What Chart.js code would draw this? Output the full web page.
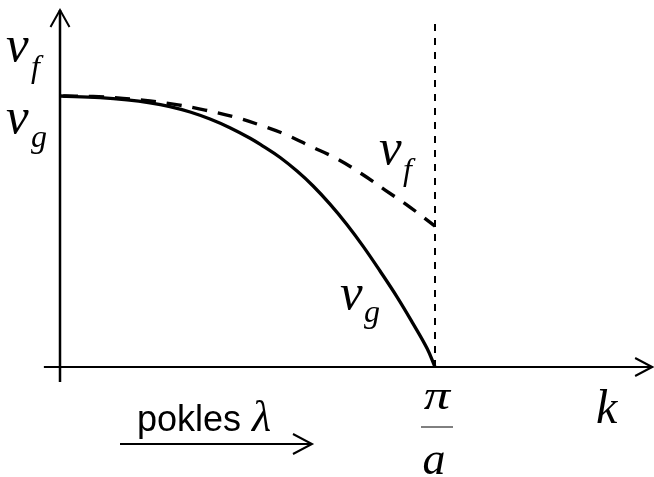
<!DOCTYPE html>
<html>
<head>
<meta charset="utf-8">
<script src="https://cdn.jsdelivr.net/npm/chart.js@4"></script>
<style>
  html, body { margin: 0; padding: 0; background: #fff; }
  #wrap { width: 654px; height: 477px; }
</style>
</head>
<body>
<div id="wrap"><canvas id="c" width="654" height="477"></canvas></div>
<script>
// wave number k in units of pi/a, velocities in units of v0
const kGroup = [0, 0.107, 0.179, 0.24, 0.293, 0.347, 0.4, 0.453, 0.507, 0.541, 0.587,
                0.632, 0.675, 0.72, 0.765, 0.808, 0.853, 0.899, 0.941, 0.979, 1];
const vGroup = [1.0, 0.994, 0.986, 0.975, 0.961, 0.941, 0.915, 0.883, 0.844, 0.815, 0.773,
                0.723, 0.668, 0.601, 0.526, 0.446, 0.355, 0.258, 0.161, 0.068, 0];

const kPhase = [0, 0.088, 0.168, 0.24, 0.315, 0.387, 0.461, 0.533, 0.605, 0.667,
                0.739, 0.805, 0.867, 0.933, 1];
const vPhase = [1.0, 0.998, 0.991, 0.982, 0.967, 0.948, 0.924, 0.893, 0.856, 0.815,
                0.768, 0.712, 0.653, 0.590, 0.520];

// zone boundary k = pi/a and axis extents
const kEdge = 1;
const edgeTop = 1.266;
const xAxisRange = [-0.043, 1.579];
const yAxisRange = [-0.055, 1.317];

const pts = (xs, ys) => xs.map((x, i) => ({ x: x, y: ys[i] }));

const serif = '"Liberation Serif", "Times New Roman", serif';
const sans = '"Liberation Sans", Arial, sans-serif';

function line(ctx, x1, y1, x2, y2) {
    ctx.beginPath();
    ctx.moveTo(x1, y1);
    ctx.lineTo(x2, y2);
    ctx.stroke();
}

function arrowHead(ctx, tx, ty, dx, dy, len, half) {
    // dx,dy: unit direction of the arrow
    const bx = tx - dx * len, by = ty - dy * len;
    ctx.beginPath();
    ctx.moveTo(bx - dy * half, by + dx * half);
    ctx.lineTo(tx, ty);
    ctx.lineTo(bx + dy * half, by - dx * half);
    ctx.stroke();
}

const labels = {
    id: 'labels',
    afterDatasetsDraw(chart) {
        const ctx = chart.ctx;
        const xs = chart.scales.x, ys = chart.scales.y;
        ctx.save();
        ctx.strokeStyle = '#000';
        ctx.fillStyle = '#000';
        ctx.lineWidth = 2;
        ctx.lineCap = 'butt';

        // axis arrow heads
        arrowHead(ctx, xs.getPixelForValue(0), ys.getPixelForValue(yAxisRange[1]), 0, -1, 17, 9.5);
        arrowHead(ctx, xs.getPixelForValue(xAxisRange[1]), ys.getPixelForValue(0), 1, 0, 17, 9);

        // "pokles lambda" arrow
        line(ctx, 120, 444, 312, 444);
        arrowHead(ctx, 312, 444, 1, 0, 19, 10);

        ctx.textBaseline = 'alphabetic';
        ctx.textAlign = 'left';

        ctx.font = '36px ' + sans;
        ctx.fillText('pokles', 137, 431);
        ctx.font = 'italic 44px ' + serif;
        ctx.fillText('λ', 252, 431);

        // axis symbols
        ctx.font = 'italic 51px ' + serif;
        ctx.fillText('v', 6, 61);
        ctx.fillText('v', 6, 133);
        ctx.font = 'italic 32px ' + serif;
        ctx.fillText('f', 31, 77);
        ctx.fillText('g', 31, 147);

        // curve labels
        ctx.font = 'italic 51px ' + serif;
        ctx.fillText('v', 379, 164);
        ctx.fillText('v', 340, 309);
        ctx.font = 'italic 32px ' + serif;
        ctx.fillText('f', 403, 180);
        ctx.fillText('g', 364, 322);

        // pi / a at the zone boundary
        const px = xs.getPixelForValue(kEdge);
        ctx.textAlign = 'center';
        ctx.save();
        ctx.translate(px + 2, 409);
        ctx.scale(1.25, 1);
        ctx.font = 'italic 42px ' + serif;
        ctx.fillText('π', 0, 0);
        ctx.restore();
        ctx.font = 'italic 46px ' + serif;
        ctx.fillText('a', px - 1, 474);
        ctx.lineWidth = 1;
        line(ctx, px - 14, 427, px + 18, 427);

        ctx.font = 'italic 48px ' + serif;
        ctx.textAlign = 'left';
        ctx.fillText('k', 596, 423);
        ctx.restore();
    }
};

new Chart(document.getElementById('c'), {
    type: 'line',
    data: {
        datasets: [
            {
                label: 'x axis',
                data: pts(xAxisRange, [0, 0]),
                borderColor: '#000', borderWidth: 2, pointRadius: 0, tension: 0
            },
            {
                label: 'y axis',
                data: pts([0, 0], yAxisRange),
                borderColor: '#000', borderWidth: 2.5, pointRadius: 0, tension: 0
            },
            {
                label: 'pi/a',
                data: pts([kEdge, kEdge], [0, edgeTop]),
                borderColor: '#000', borderWidth: 2, borderDash: [7, 7],
                pointRadius: 0, tension: 0
            },
            {
                label: 'v_f',
                data: pts(kPhase, vPhase),
                borderColor: '#000', borderWidth: 3.4, borderDash: [15, 11],
                borderDashOffset: -3,
                pointRadius: 0, tension: 0.4
            },
            {
                label: 'v_g',
                data: pts(kGroup, vGroup),
                borderColor: '#000', borderWidth: 3.3, pointRadius: 0,
                tension: 0.4
            }
        ]
    },
    options: {
        responsive: false,
        animation: false,
        layout: { padding: 0 },
        plugins: { legend: { display: false }, tooltip: { enabled: false } },
        scales: {
            x: { type: 'linear', min: -0.16, max: 1.584, display: false },
            y: { type: 'linear', min: -0.4059, max: 1.3542, display: false }
        }
    },
    plugins: [labels]
});
</script>
</body>
</html>
